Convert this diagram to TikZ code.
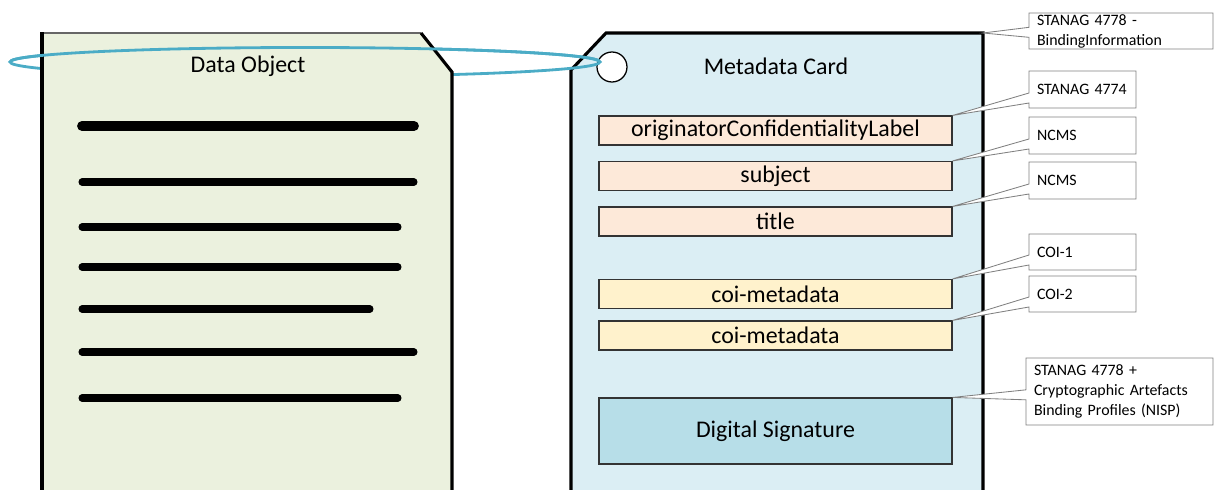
\documentclass[tikz,border=0pt]{standalone}
\usepackage{fontspec}
\setmainfont{Carlito}
\usetikzlibrary{shapes.callouts}
\newdimen\pxu \pxu=0.025cm
\definecolor{docfill}{HTML}{EBF1DE}
\definecolor{cardfill}{HTML}{DBEEF4}
\definecolor{ringcol}{HTML}{4BACC6}
\definecolor{peach}{HTML}{FDE9D9}
\definecolor{lightyellow}{HTML}{FFF2CC}
\definecolor{sigfill}{HTML}{B7DEE8}
\definecolor{notegray}{HTML}{808080}
\begin{document}
\begin{tikzpicture}[x=0.025cm,y=-0.025cm,
  edge/.style={line width=2.2pt,black,line join=miter},
  ring/.style={line width=2pt,ringcol},
  bar/.style={line width=5pt,black,line cap=round},
  bigtext/.style={font=\fontsize{17}{20}\selectfont},
  field/.style={draw=black!80,line width=0.8pt,minimum width=353\pxu,minimum height=29\pxu,inner sep=0pt,font=\fontsize{17}{20}\selectfont},
  note/.style={rectangle callout,draw=notegray,fill=white,line width=0.6pt,align=left,inner xsep=8\pxu,inner ysep=0pt,callout pointer width=10\pxu,font=\fontsize{11.3}{14.2}\selectfont}
]
\useasboundingbox (0,0) rectangle (1214,490);
% Metadata card
\fill[cardfill] (571,70) -- (606,33) -- (983,33) -- (983,495) -- (571,495) -- cycle;
\draw[edge] (571,495) -- (571,70) -- (606,33) -- (983,33) -- (983,495);
\coordinate (cardNE) at (983,33);
\node[circle,draw=black,fill=white,line width=0.9pt,minimum size=30\pxu,inner sep=0pt] (hole) at (612,67) {};
% ring (full)
\draw[ring] (305,62) ellipse [x radius=295,y radius=14.5];
% Data object
\fill[docfill] (42,33) -- (421,33) -- (452,72) -- (452,495) -- (42,495) -- cycle;
\draw[line width=0.8pt,black!60] (42,33) -- (421,33);
\draw[edge] (42,495) -- (42,32);
\draw[edge] (421,33) -- (452,72) -- (452,495);
% front arc of ring
\draw[ring] (600,62) arc[start angle=0,end angle=-180,x radius=295,y radius=14.5];
\node[bigtext] (dotitle) at (248,66) {Data Object};
% text bars
\draw[bar,line width=7pt] (82,126) -- (414,126);
\draw[bar] (82,182) -- (414,182);
\draw[bar] (82,227) -- (398,227);
\draw[bar] (82,267) -- (398,267);
\draw[bar] (82,309) -- (370,309);
\draw[bar] (82,352) -- (414,352);
\draw[bar] (82,398) -- (398,398);
% card title
\node[bigtext] (mctitle) at (776,66) {Metadata Card};
% fields
\node[field,fill=peach] (ocl) at (775.5,130.5) {originatorConfidentialityLabel};
\node[field,fill=peach] (subj) at (775.5,176) {subject};
\node[field,fill=peach] (title) at (775.5,221.5) {title};
\node[field,fill=lightyellow] (coi1) at (775.5,294) {coi-metadata};
\node[field,fill=lightyellow] (coi2) at (775.5,335.5) {coi-metadata};
\node[field,fill=sigfill,minimum height=66\pxu] (sig) at (775.5,431) {Digital Signature};
% callouts
\node[note,minimum width=184\pxu,minimum height=36\pxu,text width=168\pxu,callout absolute pointer={(cardNE)}] (n1) at (1121,31) {STANAG 4778 -\\BindingInformation};
\node[note,minimum width=107\pxu,minimum height=37\pxu,text width=91\pxu,callout absolute pointer={(ocl.north east)}] (n2) at (1082.5,89.5) {STANAG 4774};
\node[note,minimum width=107\pxu,minimum height=37\pxu,text width=91\pxu,callout absolute pointer={(subj.north east)}] (n3) at (1082.5,135.5) {NCMS};
\node[note,minimum width=107\pxu,minimum height=37\pxu,text width=91\pxu,callout absolute pointer={(title.north east)}] (n4) at (1082.5,180.5) {NCMS};
\node[note,minimum width=107\pxu,minimum height=36\pxu,text width=91\pxu,callout absolute pointer={(coi1.north east)}] (n5) at (1082.5,252) {COI-1};
\node[note,minimum width=107\pxu,minimum height=36\pxu,text width=91\pxu,callout absolute pointer={(coi2.north east)}] (n6) at (1082.5,294) {COI-2};
\node[note,minimum width=187\pxu,minimum height=67\pxu,text width=171\pxu,callout absolute pointer={(sig.north east)}] (n7) at (1119.5,391.5) {STANAG 4778 +\\Cryptographic Artefacts\\Binding Profiles (NISP)};
\end{tikzpicture}
\end{document}
